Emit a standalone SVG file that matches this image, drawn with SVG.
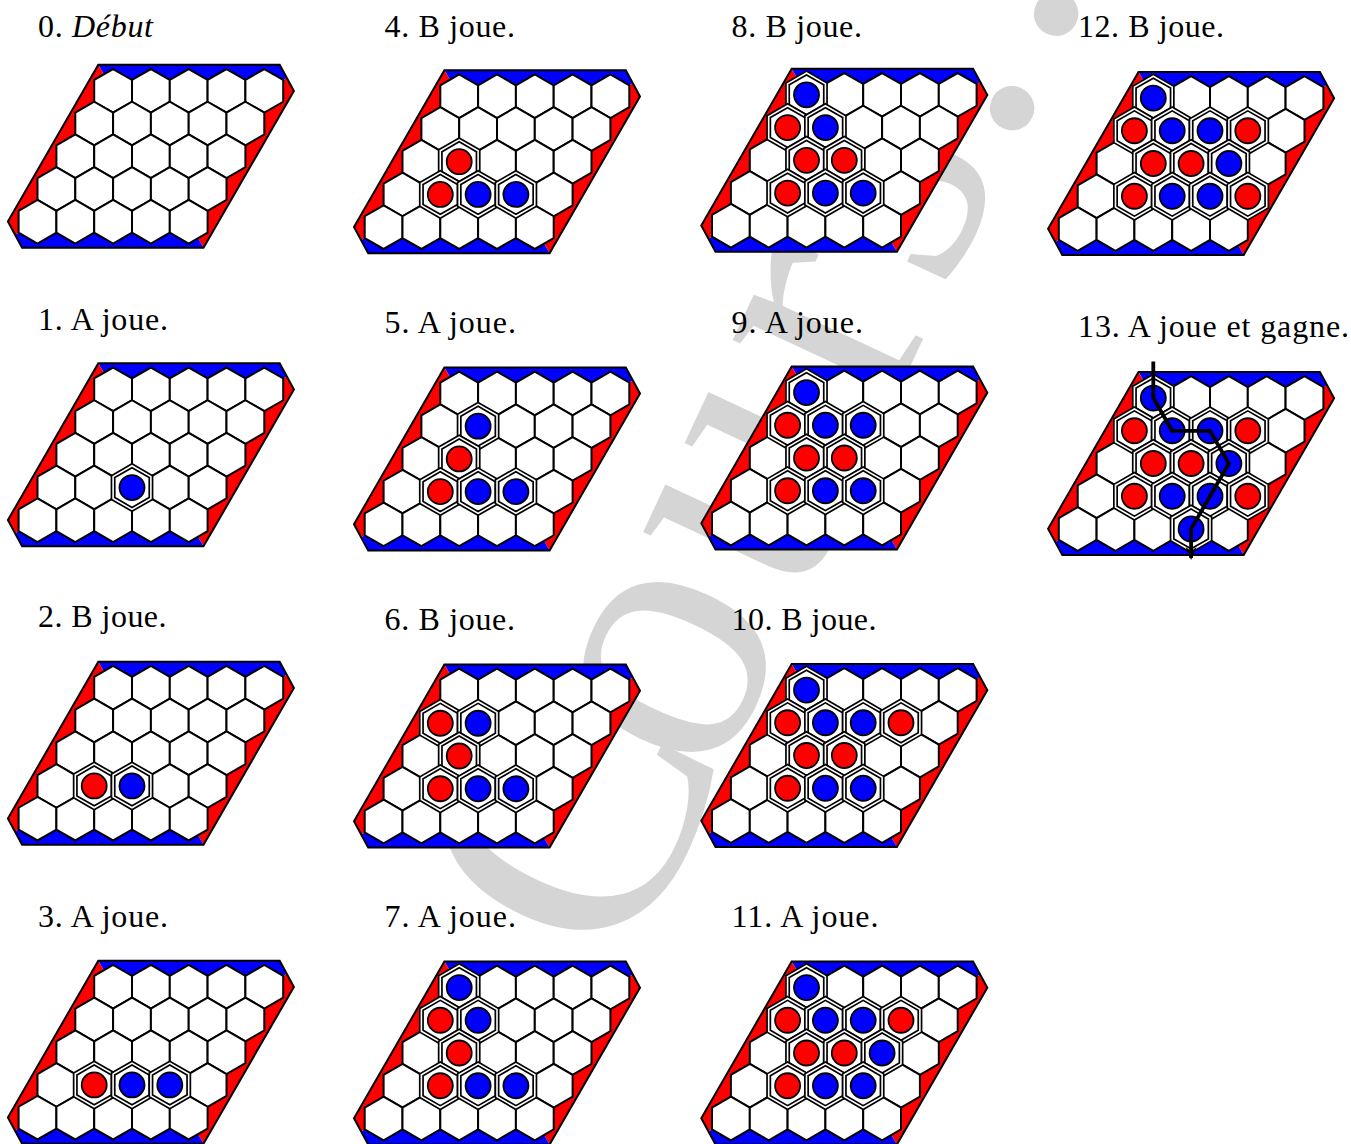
<svg xmlns="http://www.w3.org/2000/svg" xmlns:xlink="http://www.w3.org/1999/xlink" width="1351" height="1144" viewBox="0 0 1351 1144">
<style>
.lbl{font-family:"Liberation Serif","DejaVu Serif",serif;font-size:32px;fill:#000}
.wm{font-family:"Liberation Serif","DejaVu Serif",serif;font-size:375px;fill:#d5d5d5}
.hx{fill:#fff;stroke:#000;stroke-width:2;stroke-linejoin:miter}
.ol{fill:none;stroke:#000;stroke-width:2;stroke-linejoin:miter}
.rd{fill:#ff0000}
.bl{fill:#0000ff}
</style>
<defs>
<polygon id="hx" points="0,-21.82 18.9,-10.91 18.9,10.91 0,21.82 -18.9,10.91 -18.9,-10.91"/>
<g id="board">
<polygon class="bl" points="0,0 -52.6,-91.5 128.8,-91.5 135.9,-78.4"/>
<polygon class="rd" points="0,0 135.9,-78.4 143,-65.3 52.6,91.5"/>
<polygon class="bl" points="0,0 52.6,91.5 -128.8,91.5 -135.9,78.4"/>
<polygon class="rd" points="0,0 -135.9,78.4 -143,65.3 -52.6,-91.5"/>
<polygon class="ol" points="-52.6,-91.5 128.8,-91.5 143,-65.3 52.6,91.5 -128.8,91.5 -143,65.3"/>
<g class="hx">
<use href="#hx" x="-37.8" y="-65.46"/><use href="#hx" x="0" y="-65.46"/><use href="#hx" x="37.8" y="-65.46"/><use href="#hx" x="75.6" y="-65.46"/><use href="#hx" x="113.4" y="-65.46"/>
<use href="#hx" x="-56.7" y="-32.73"/><use href="#hx" x="-18.9" y="-32.73"/><use href="#hx" x="18.9" y="-32.73"/><use href="#hx" x="56.7" y="-32.73"/><use href="#hx" x="94.5" y="-32.73"/>
<use href="#hx" x="-75.6" y="0"/><use href="#hx" x="-37.8" y="0"/><use href="#hx" x="0" y="0"/><use href="#hx" x="37.8" y="0"/><use href="#hx" x="75.6" y="0"/>
<use href="#hx" x="-94.5" y="32.73"/><use href="#hx" x="-56.7" y="32.73"/><use href="#hx" x="-18.9" y="32.73"/><use href="#hx" x="18.9" y="32.73"/><use href="#hx" x="56.7" y="32.73"/>
<use href="#hx" x="-113.4" y="65.46"/><use href="#hx" x="-75.6" y="65.46"/><use href="#hx" x="-37.8" y="65.46"/><use href="#hx" x="0" y="65.46"/><use href="#hx" x="37.8" y="65.46"/>
</g>
</g>
<g id="cell">
<use href="#hx" fill="#fff" stroke="#000" stroke-width="5"/>
<use href="#hx" fill="none" stroke="#fff" stroke-width="1.6"/>
</g>
<g id="sr"><use href="#cell"/><circle r="12.5" fill="#ff0000" stroke="#000" stroke-width="1.8"/></g>
<g id="sb"><use href="#cell"/><circle r="12.5" fill="#0000ff" stroke="#000" stroke-width="1.8"/></g>
<marker id="arr" viewBox="-14 -7 16 14" refX="-1" refY="0" markerWidth="16" markerHeight="14" markerUnits="userSpaceOnUse" orient="auto">
<path d="M1,0 L-12,-5.5 L-8,0 L-12,5.5 Z" fill="#000"/>
</marker>
</defs>
<rect width="1351" height="1144" fill="#fff"/>
<text class="wm" transform="translate(599,1034) rotate(-65)" x="60 270.75 468.75 677.85 814.65 966.75 1071 1175.25" y="0">Cours...</text>

<g id="labels" class="lbl">
<text x="38" y="36.5" textLength="115">0. <tspan font-style="italic">Début</tspan></text>
<text x="38" y="330" textLength="130">1. A joue.</text>
<text x="38" y="627" textLength="128.5">2. B joue.</text>
<text x="38" y="926.5" textLength="130">3. A joue.</text>
<text x="384.5" y="36.5" textLength="130.5">4. B joue.</text>
<text x="384.5" y="333" textLength="131.5">5. A joue.</text>
<text x="384.5" y="630" textLength="130.5">6. B joue.</text>
<text x="384.5" y="926.5" textLength="131.5">7. A joue.</text>
<text x="731.5" y="36.5" textLength="130.5">8. B joue.</text>
<text x="731.5" y="333" textLength="131.5">9. A joue.</text>
<text x="731.5" y="630" textLength="145">10. B joue.</text>
<text x="731.5" y="926.5" textLength="147">11. A joue.</text>
<text x="1078" y="36.5" textLength="146">12. B joue.</text>
<text x="1078" y="337" textLength="271">13. A joue et gagne.</text>
</g>

<g id="b0" transform="translate(150.9,156.3)"><use href="#board"/></g>
<g id="b1" transform="translate(150.9,454.8)"><use href="#board"/>
<use href="#sb" x="-18.9" y="32.73"/></g>
<g id="b2" transform="translate(150.9,753.2)"><use href="#board"/>
<use href="#sr" x="-56.7" y="32.73"/><use href="#sb" x="-18.9" y="32.73"/></g>
<g id="b3" transform="translate(150.9,1052.2)"><use href="#board"/>
<use href="#sr" x="-56.7" y="32.73"/><use href="#sb" x="-18.9" y="32.73"/><use href="#sb" x="18.9" y="32.73"/></g>

<g id="b4" transform="translate(497,161.7)"><use href="#board"/>
<use href="#sr" x="-37.8" y="0"/>
<use href="#sr" x="-56.7" y="32.73"/><use href="#sb" x="-18.9" y="32.73"/><use href="#sb" x="18.9" y="32.73"/></g>
<g id="b5" transform="translate(497,458.9)"><use href="#board"/>
<use href="#sb" x="-18.9" y="-32.73"/>
<use href="#sr" x="-37.8" y="0"/>
<use href="#sr" x="-56.7" y="32.73"/><use href="#sb" x="-18.9" y="32.73"/><use href="#sb" x="18.9" y="32.73"/></g>
<g id="b6" transform="translate(497,756)"><use href="#board"/>
<use href="#sr" x="-56.7" y="-32.73"/><use href="#sb" x="-18.9" y="-32.73"/>
<use href="#sr" x="-37.8" y="0"/>
<use href="#sr" x="-56.7" y="32.73"/><use href="#sb" x="-18.9" y="32.73"/><use href="#sb" x="18.9" y="32.73"/></g>
<g id="b7" transform="translate(497,1053)"><use href="#board"/>
<use href="#sb" x="-37.8" y="-65.46"/>
<use href="#sr" x="-56.7" y="-32.73"/><use href="#sb" x="-18.9" y="-32.73"/>
<use href="#sr" x="-37.8" y="0"/>
<use href="#sr" x="-56.7" y="32.73"/><use href="#sb" x="-18.9" y="32.73"/><use href="#sb" x="18.9" y="32.73"/></g>

<g id="b8" transform="translate(844.3,160.3)"><use href="#board"/>
<use href="#sb" x="-37.8" y="-65.46"/>
<use href="#sr" x="-56.7" y="-32.73"/><use href="#sb" x="-18.9" y="-32.73"/>
<use href="#sr" x="-37.8" y="0"/><use href="#sr" x="0" y="0"/>
<use href="#sr" x="-56.7" y="32.73"/><use href="#sb" x="-18.9" y="32.73"/><use href="#sb" x="18.9" y="32.73"/></g>
<g id="b9" transform="translate(844.3,458)"><use href="#board"/>
<use href="#sb" x="-37.8" y="-65.46"/>
<use href="#sr" x="-56.7" y="-32.73"/><use href="#sb" x="-18.9" y="-32.73"/><use href="#sb" x="18.9" y="-32.73"/>
<use href="#sr" x="-37.8" y="0"/><use href="#sr" x="0" y="0"/>
<use href="#sr" x="-56.7" y="32.73"/><use href="#sb" x="-18.9" y="32.73"/><use href="#sb" x="18.9" y="32.73"/></g>
<g id="b10" transform="translate(844.3,755.5)"><use href="#board"/>
<use href="#sb" x="-37.8" y="-65.46"/>
<use href="#sr" x="-56.7" y="-32.73"/><use href="#sb" x="-18.9" y="-32.73"/><use href="#sb" x="18.9" y="-32.73"/><use href="#sr" x="56.7" y="-32.73"/>
<use href="#sr" x="-37.8" y="0"/><use href="#sr" x="0" y="0"/>
<use href="#sr" x="-56.7" y="32.73"/><use href="#sb" x="-18.9" y="32.73"/><use href="#sb" x="18.9" y="32.73"/></g>
<g id="b11" transform="translate(844.3,1053)"><use href="#board"/>
<use href="#sb" x="-37.8" y="-65.46"/>
<use href="#sr" x="-56.7" y="-32.73"/><use href="#sb" x="-18.9" y="-32.73"/><use href="#sb" x="18.9" y="-32.73"/><use href="#sr" x="56.7" y="-32.73"/>
<use href="#sr" x="-37.8" y="0"/><use href="#sr" x="0" y="0"/><use href="#sb" x="37.8" y="0"/>
<use href="#sr" x="-56.7" y="32.73"/><use href="#sb" x="-18.9" y="32.73"/><use href="#sb" x="18.9" y="32.73"/></g>

<g id="b12" transform="translate(1191.1,163.5)"><use href="#board"/>
<use href="#sb" x="-37.8" y="-65.46"/>
<use href="#sr" x="-56.7" y="-32.73"/><use href="#sb" x="-18.9" y="-32.73"/><use href="#sb" x="18.9" y="-32.73"/><use href="#sr" x="56.7" y="-32.73"/>
<use href="#sr" x="-37.8" y="0"/><use href="#sr" x="0" y="0"/><use href="#sb" x="37.8" y="0"/>
<use href="#sr" x="-56.7" y="32.73"/><use href="#sb" x="-18.9" y="32.73"/><use href="#sb" x="18.9" y="32.73"/><use href="#sr" x="56.7" y="32.73"/></g>
<g id="b13" transform="translate(1191.1,463.5)"><use href="#board"/>
<use href="#sb" x="-37.8" y="-65.46"/>
<use href="#sr" x="-56.7" y="-32.73"/><use href="#sb" x="-18.9" y="-32.73"/><use href="#sb" x="18.9" y="-32.73"/><use href="#sr" x="56.7" y="-32.73"/>
<use href="#sr" x="-37.8" y="0"/><use href="#sr" x="0" y="0"/><use href="#sb" x="37.8" y="0"/>
<use href="#sr" x="-56.7" y="32.73"/><use href="#sb" x="-18.9" y="32.73"/><use href="#sb" x="18.9" y="32.73"/><use href="#sr" x="56.7" y="32.73"/>
<use href="#sb" x="0" y="65.46"/></g>

<g id="connectors">
<path d="M1153.3,361.5 L1153.3,398 L1172.2,430.8 L1210,430.8 L1228.9,463.5 L1191.1,528.9 L1191.1,558" fill="none" stroke="#000" stroke-width="3.8" stroke-linejoin="miter" marker-end="url(#arr)"/>
</g>
</svg>
